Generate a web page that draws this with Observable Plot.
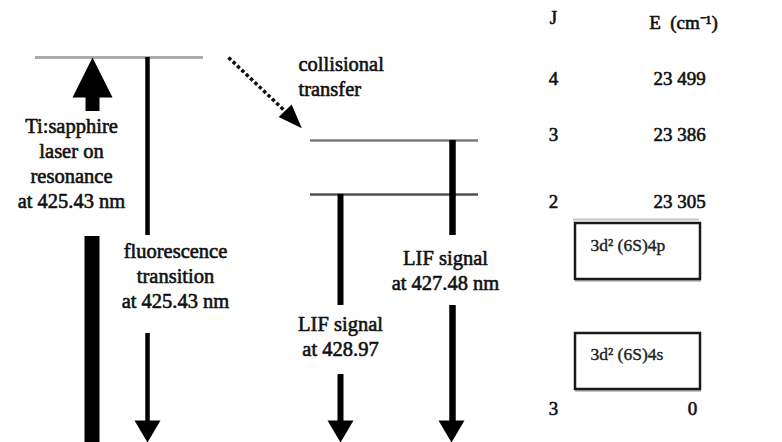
<!DOCTYPE html>
<html><head><meta charset="utf-8">
<script src="https://cdn.jsdelivr.net/npm/d3@7"></script>
<script src="https://cdn.jsdelivr.net/npm/@observablehq/plot@0.6"></script>
<style>html,body{margin:0;padding:0;background:#fff}</style>
</head><body><div id="chart"></div>
<script>
// ---------- data ----------
const columnHeads = ["J", "E  (cm⁻¹)"];
const levelJ = ["4", "3", "2", "3"];
const levelEnergy = ["23 499", "23 386", "23 305", "0"];
const configurations = ["3d² (6S)4p", "3d² (6S)4s"];
const laserLabel = ["Ti:sapphire", "laser on", "resonance", "at 425.43 nm"];
const fluorLabel = ["fluorescence", "transition", "at 425.43 nm"];
const lifALabel = ["LIF signal", "at 427.48 nm"];
const lifBLabel = ["LIF signal", "at 428.97"];
const transferLabel = ["collisional", "transfer"];

// ---------- layout (schematic pixel frame) ----------
const W = 782, H = 442;
const tableRowY = [78, 134, 201, 408];
const levelLines = [
  {x1: 35, x2: 203, y: 57, c: "#ababab", w: 3},
  {x1: 310, x2: 478, y: 140, c: "#7a7a7a", w: 2.5},
  {x1: 310, x2: 478, y: 194, c: "#505050", w: 2.5},
  {x1: 573, x2: 699, y: 219, c: "#c4c4c4", w: 2},
  {x1: 575, x2: 701, y: 280, c: "#b4b4b4", w: 2.5},
  {x1: 575, x2: 701, y: 390, c: "#b4b4b4", w: 2.5}
];
const boxes = [
  {x1: 575, x2: 700, y1: 223, y2: 279, label: configurations[0], ly: 245},
  {x1: 575, x2: 700, y1: 333, y2: 389, label: configurations[1], ly: 354}
];
const shafts = [
  {x: 92, y1: 95, y2: 111, w: 14},
  {x: 91.5, y1: 236, y2: 442, w: 15},
  {x: 147, y1: 57, y2: 235, w: 4.5},
  {x: 147, y1: 333, y2: 424, w: 4.5},
  {x: 340, y1: 194, y2: 305, w: 6},
  {x: 340, y1: 374, y2: 424, w: 6},
  {x: 452, y1: 140, y2: 235, w: 6.5},
  {x: 452, y1: 305, y2: 424, w: 6.5}
];
const downHeads = [{x: 147, y: 431}, {x: 340, y: 431}, {x: 451, y: 431}];
const upHeads = [{x: 92, y: 77}];
const transferHead = [{x: 293, y: 119}];
const transferLine = [{x1: 228, y1: 57, x2: 286, y2: 112}];

const blocks = [
  {x: 71, y: 162, t: laserLabel},
  {x: 175, y: 274, t: fluorLabel},
  {x: 445, y: 269, t: lifALabel},
  {x: 340, y: 335, t: lifBLabel}
].map(d => ({...d, text: d.t.join("\n")}));

const tableText = [
  {x: 553, y: 17, text: columnHeads[0]},
  {x: 683, y: 22, text: columnHeads[1]},
  ...levelJ.map((j, i) => ({x: 553, y: tableRowY[i], text: j})),
  ...levelEnergy.map((e, i) => ({x: i < 3 ? 679 : 692, y: tableRowY[i], text: e}))
];

function tri(hw, hh, dir) {
  return {draw(ctx) {
    const s = dir === "down" ? 1 : -1;
    ctx.moveTo(-hw, -s * hh);
    ctx.lineTo(hw, -s * hh);
    ctx.lineTo(0, s * hh);
    ctx.closePath();
  }};
}

const font = "Liberation Serif";
const ink = "#111";
const heavy = {stroke: ink, strokeWidth: 0.6};

const chart = Plot.plot({
  width: W, height: H,
  margin: 0,
  x: {domain: [0, W], range: [0, W], axis: null},
  y: {domain: [0, H], range: [0, H], axis: null},
  marks: [
    Plot.ruleY(levelLines, {x1: "x1", x2: "x2", y: "y", stroke: d => d.c, strokeWidth: "w"}),
    Plot.rect(boxes, {x1: "x1", x2: "x2", y1: "y1", y2: "y2", fill: "none", stroke: "#1a1a1a", strokeWidth: 2.5}),
    Plot.text(boxes, {x: d => d.x1 + 15, y: "ly", text: "label", textAnchor: "start", fontSize: 17.5, fontFamily: font, fill: "#222", stroke: "#222", strokeWidth: 0.4}),
    Plot.ruleX(shafts, {x: "x", y1: "y1", y2: "y2", strokeWidth: "w", stroke: "#000"}),
    Plot.dot(downHeads, {x: "x", y: "y", symbol: tri(13, 11, "down"), fill: "#000", stroke: "none", r: 5}),
    Plot.dot(upHeads, {x: "x", y: "y", symbol: tri(20, 20, "up"), fill: "#000", stroke: "none", r: 5}),
    Plot.link(transferLine, {x1: "x1", y1: "y1", x2: "x2", y2: "y2", stroke: "#111", strokeWidth: 3.5, strokeDasharray: "3.5,2.5"}),
    Plot.dot(transferHead, {x: "x", y: "y", symbol: tri(9, 12, "up"), rotate: 136, fill: "#000", stroke: "none", r: 5}),
    Plot.text(blocks, {x: "x", y: "y", text: "text", fontSize: 20.5, lineHeight: 1.22, fontFamily: font, fill: ink, ...heavy}),
    Plot.text([transferLabel.join("\n")], {x: 298, y: 75, text: d => d, textAnchor: "start", fontSize: 20.5, lineHeight: 1.2, fontFamily: font, fill: ink, ...heavy}),
    Plot.text(tableText, {x: "x", y: "y", text: "text", fontSize: 19, fontFamily: font, fill: ink, ...heavy})
  ]
});
document.getElementById("chart").appendChild(chart);
</script>
</body></html>
